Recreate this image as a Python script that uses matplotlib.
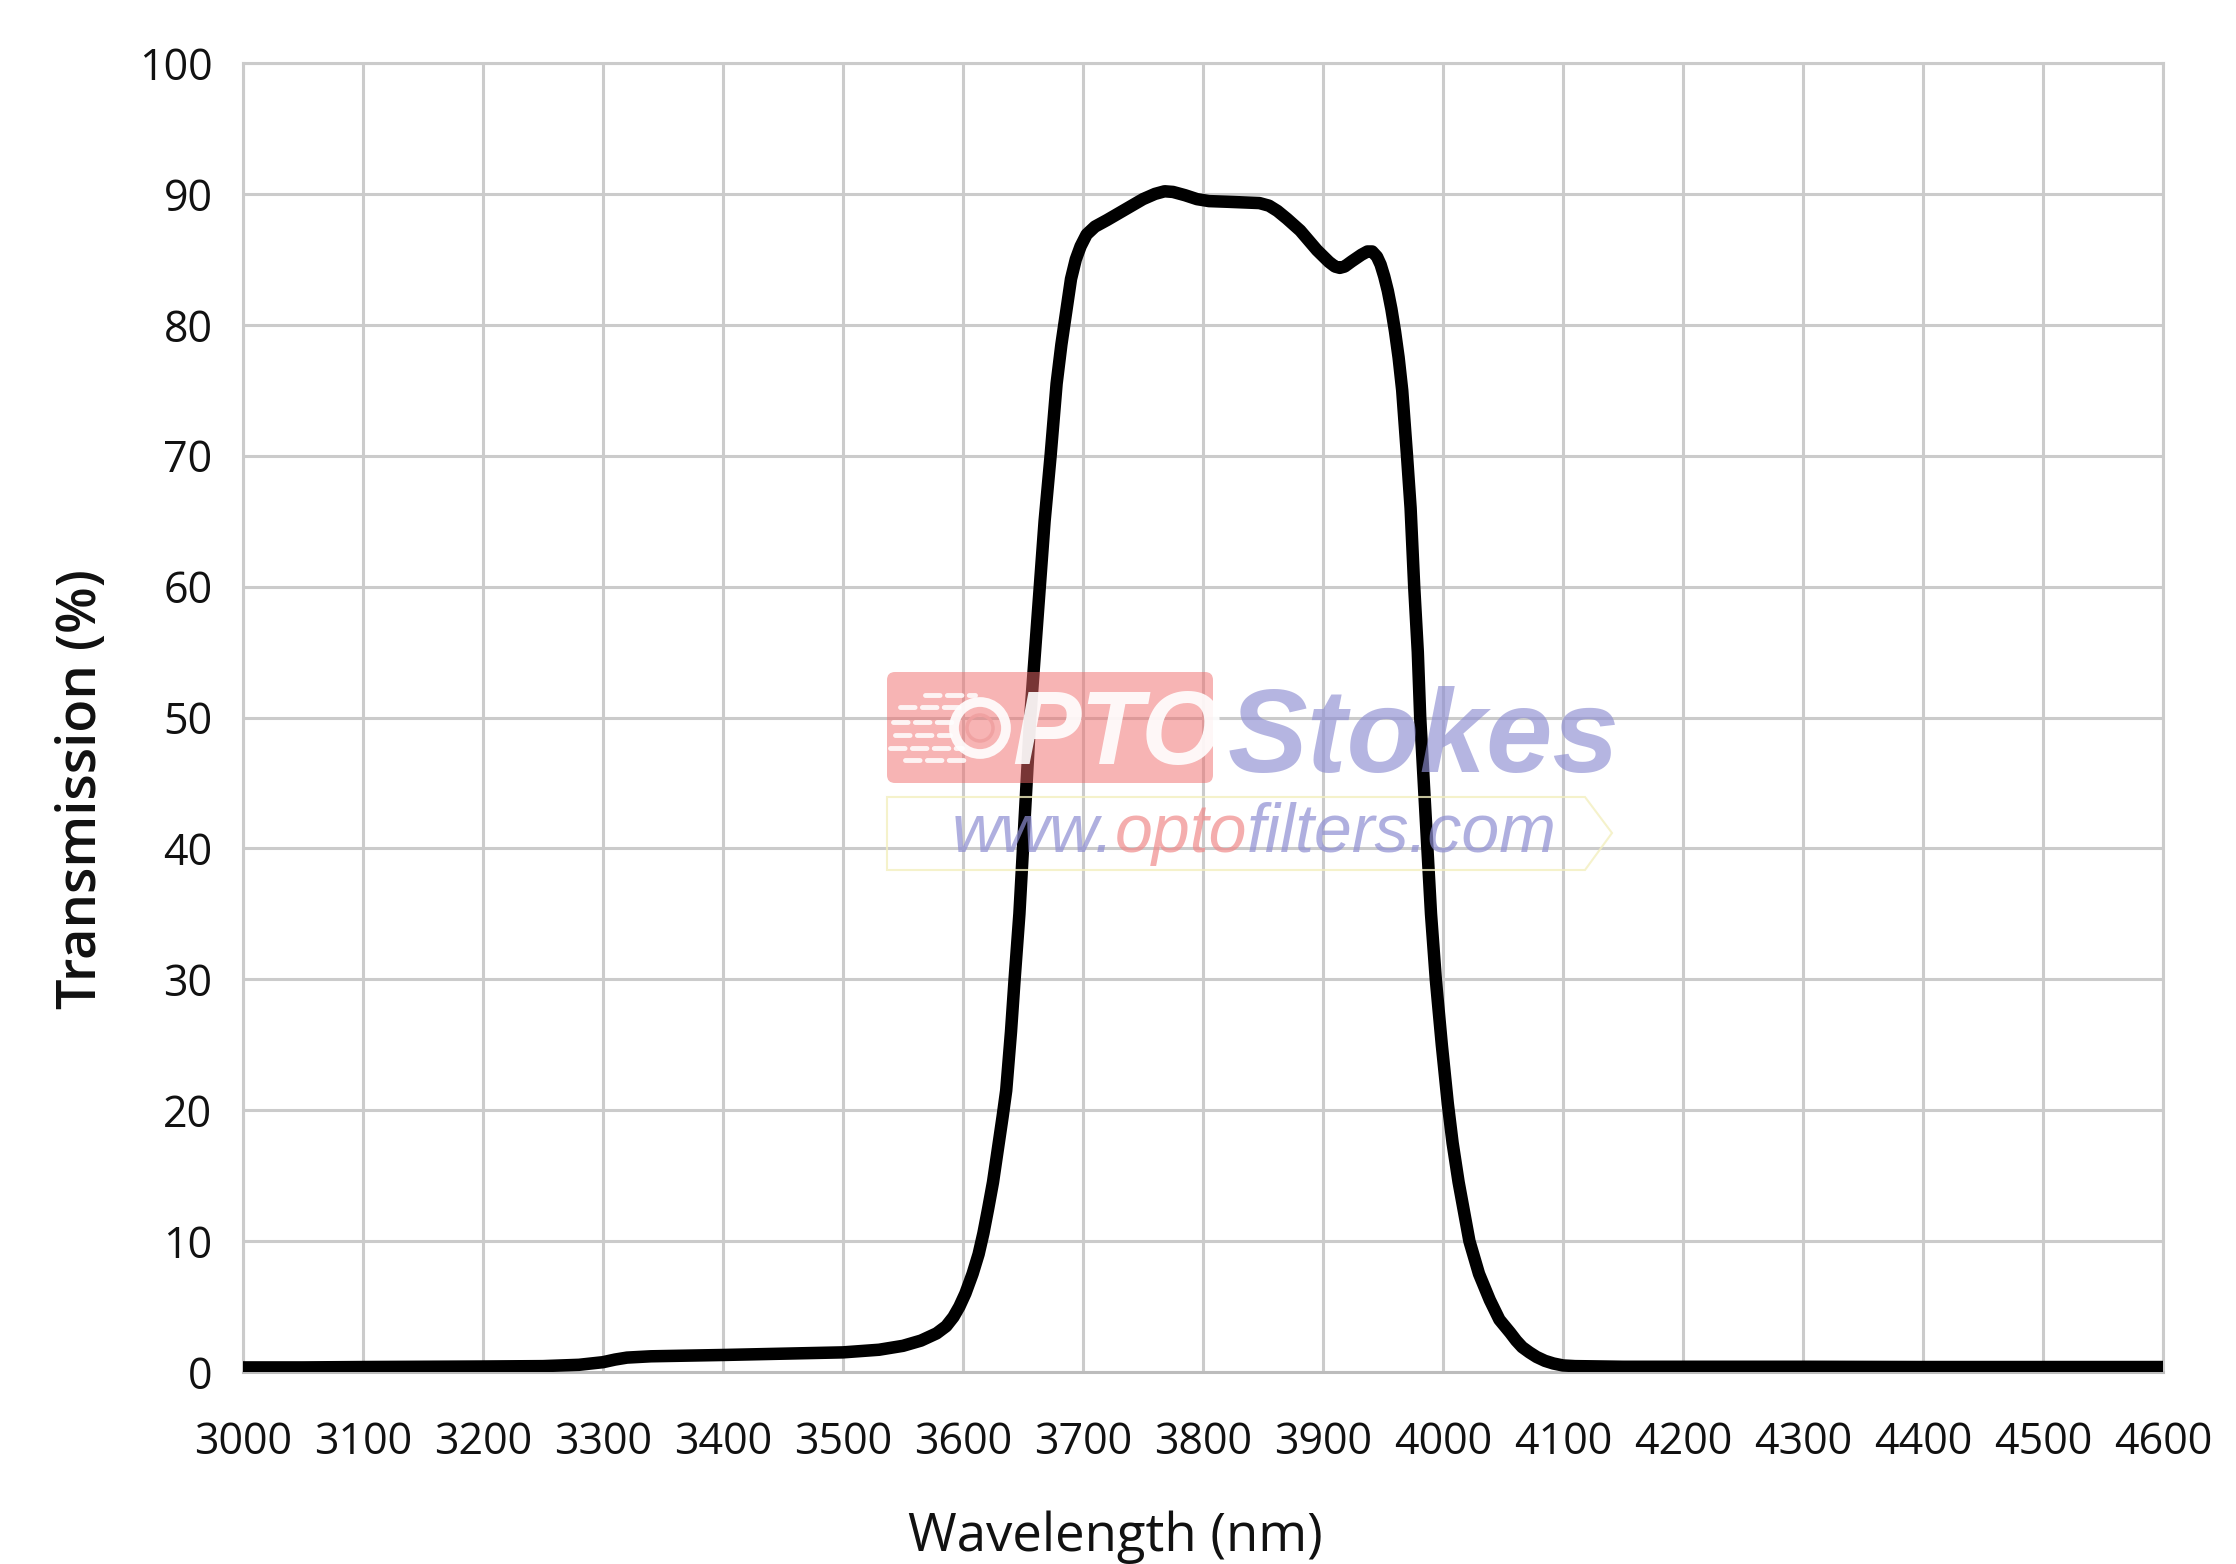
import numpy as np
import matplotlib.pyplot as plt
from matplotlib.patches import FancyBboxPatch, Circle, Polygon

W, H, DPI = 2236, 1564, 100

# Transmission curve
wavelength = [3000, 3050, 3100, 3150, 3200, 3250, 3280, 3300, 3310, 3320,
              3340, 3370, 3400, 3450, 3500, 3530, 3550, 3565, 3578, 3586,
              3592, 3597, 3602, 3608, 3613, 3617, 3621, 3625, 3629, 3633,
              3636, 3640, 3643, 3647, 3650, 3653, 3656, 3660, 3664, 3668,
              3673, 3678, 3682, 3686, 3690, 3694, 3698, 3703, 3710, 3720,
              3735, 3750, 3760, 3768, 3775, 3785, 3795, 3805, 3820, 3847,
              3855, 3862, 3870, 3881, 3895, 3905, 3910, 3914, 3918, 3924,
              3932, 3937, 3941, 3945, 3948, 3951, 3954, 3957, 3960, 3963,
              3966, 3970, 3973, 3976, 3979, 3981, 3984, 3987, 3990, 3994,
              3999, 4004, 4008, 4013, 4018, 4022, 4030, 4039, 4047, 4056,
              4061, 4066, 4072, 4078, 4085, 4092, 4100, 4110, 4150, 4200,
              4300, 4400, 4500, 4600]
transmission = [0.35, 0.35, 0.38, 0.40, 0.42, 0.45, 0.55, 0.75, 0.95, 1.10,
                1.20, 1.25, 1.30, 1.40, 1.50, 1.70, 2.00, 2.40, 2.95, 3.50,
                4.20, 5.00, 6.00, 7.50, 9.00, 10.6, 12.5, 14.5, 17.0, 19.5,
                21.5, 26.0, 30.0, 35.0, 40.0, 45.0, 50.0, 55.0, 60.0, 65.0,
                70.0, 75.5, 78.5, 81.0, 83.5, 85.0, 86.0, 86.9, 87.5, 88.0,
                88.8, 89.6, 90.0, 90.2, 90.15, 89.9, 89.6, 89.45, 89.4, 89.3,
                89.1, 88.7, 88.1, 87.2, 85.7, 84.8, 84.45, 84.35, 84.45, 84.85,
                85.35, 85.6, 85.6, 85.2, 84.6, 83.7, 82.6, 81.2, 79.5, 77.5,
                75.0, 70.0, 66.0, 60.0, 55.0, 50.0, 45.0, 40.0, 35.0, 30.0,
                25.0, 20.5, 17.5, 14.5, 12.0, 10.0, 7.5, 5.5, 4.0, 3.0,
                2.4, 1.9, 1.5, 1.15, 0.85, 0.65, 0.50, 0.45, 0.40, 0.40,
                0.40, 0.38, 0.38, 0.38]

x_ticks = list(range(3000, 4601, 100))
y_ticks = list(range(0, 101, 10))

plt.rcParams['font.family'] = ['Open Sans', 'DejaVu Sans']

fig = plt.figure(figsize=(W / DPI, H / DPI), dpi=DPI)
fig.patch.set_facecolor('white')
ax = fig.add_axes([243 / W, 1 - 1372 / H, 1920 / W, 1309 / H])

ax.plot(wavelength, transmission, color='black', lw=9,
        solid_joinstyle='round', solid_capstyle='round', zorder=3)

ax.set_xlim(3000, 4600)
ax.set_ylim(0, 100)
ax.set_xticks(x_ticks)
ax.set_yticks(y_ticks)
ax.grid(True, color='#cbcbcb', lw=2.2)
ax.set_axisbelow(True)
for sp in ax.spines.values():
    sp.set_color('#cbcbcb')
    sp.set_linewidth(2.2)
ax.spines['bottom'].set_color('#bcbcbc')
ax.tick_params(axis='both', length=0, labelsize=31, colors='#111111')
ax.tick_params(axis='y', pad=22)
ax.tick_params(axis='x', pad=35)

ax.set_xlabel('Wavelength (nm)', fontsize=38, color='#111111')
ax.set_ylabel('Transmission (%)', fontsize=39, color='#111111',
              weight='semibold')
ax.xaxis.label.set_va('center')
ax.yaxis.label.set_va('center')
ax.xaxis.set_label_coords((1115 - 243) / 1920, (1372 - 1537) / 1309)
ax.yaxis.set_label_coords((82 - 243) / 1920, (1372 - 789) / 1309)

# Watermark (pixel positions from the top-left, drawn in inches)
def pin(x, y):
    return x / DPI, (H - y) / DPI

tr = fig.dpi_scale_trans
wm = 10

bx, by = pin(887, 783)
box = FancyBboxPatch((bx, by), (1213 - 887) / DPI, (783 - 672) / DPI,
                     boxstyle='round,pad=0,rounding_size=0.08',
                     transform=tr, facecolor='#f06a6a', edgecolor='none',
                     alpha=0.5, zorder=wm)
fig.add_artist(box)

# dashes of the logo
dash_rows = [(695, 925, 975), (707, 900, 965), (722, 893, 955),
             (735, 895, 950), (748, 890, 962), (760, 905, 970)]
for yy, x0, x1 in dash_rows:
    xa, ya = pin(x0, yy)
    xb, _ = pin(x1, yy)
    fig.add_artist(plt.Line2D([xa, xb], [ya, ya], transform=tr, color='white',
                              lw=3.5, alpha=0.85, dash_capstyle='round',
                              linestyle=(0, (3, 1.5)), zorder=wm + 1))

cx, cy = pin(980, 728)
fig.add_artist(Circle((cx, cy), 0.26, transform=tr, facecolor='none',
                      edgecolor='white', lw=7, alpha=0.9, zorder=wm + 1))
fig.add_artist(Circle((cx, cy), 0.13, transform=tr, facecolor='none',
                      edgecolor='#f0a0a0', lw=2.5, alpha=0.9, zorder=wm + 1))

tx, ty = pin(1012, 764)
fig.text(tx, ty, 'PTO', transform=tr, fontsize=74, color='white', alpha=0.9,
         family='Liberation Sans', weight='bold', style='italic',
         ha='left', va='baseline', zorder=wm + 2)

sx, sy = pin(1228, 772)
stokes = fig.text(sx, sy, 'S t o k e s', transform=tr, fontsize=84,
                  color='#8e8ed2', alpha=0.65, family='Liberation Sans',
                  weight='bold', style='italic', ha='left', va='baseline',
                  zorder=wm + 2)

# faint outline round the url
outline = [pin(887, 797), pin(1585, 797), pin(1612, 833), pin(1585, 870),
           pin(887, 870)]
fig.add_artist(Polygon(outline, closed=True, transform=tr, facecolor='none',
                       edgecolor='#f3efbf', lw=1.5, alpha=0.8, zorder=wm))

renderer = fig.canvas.get_renderer()

# squeeze the spaced 'Stokes' to the reference width
ext = stokes.get_window_extent(renderer=renderer)
if ext.width > 400:
    stokes.set_text('Stokes')
    stokes.set_fontsize(86)

ux, uy = pin(952, 852)
for part, col in [('www.', '#8e8ed2'), ('opto', '#f08a8a'),
                  ('filters.com', '#8e8ed2')]:
    t = fig.text(ux, uy, part, transform=tr, fontsize=49, color=col,
                 alpha=0.7, family='Liberation Sans', style='italic',
                 ha='left', va='baseline', zorder=wm + 2)
    ext = t.get_window_extent(renderer=renderer)
    ux += ext.width / DPI

fig.savefig('out.png', dpi=DPI)
